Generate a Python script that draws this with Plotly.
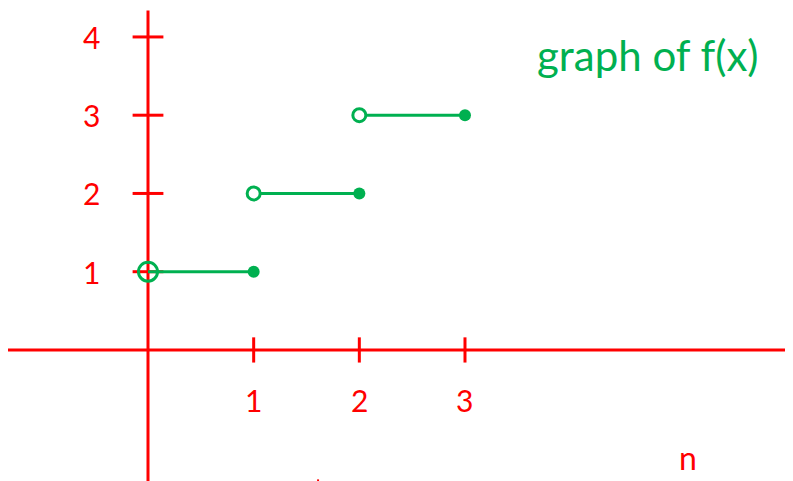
import plotly.graph_objects as go

RED = "#ff0000"
GREEN = "#00b050"

x_ticks = [1, 2, 3]
y_ticks = [1, 2, 3, 4]

# step segments: [start, end) at each level
seg_start = [0, 1, 2]
seg_end = [1, 2, 3]
seg_level = [1, 2, 3]
open_sizes = [19, 13, 13]
open_fill = ["rgba(255,255,255,0)", "white", "white"]

fig = go.Figure()

# axis tick marks
fig.add_trace(go.Scatter(
    x=x_ticks, y=[0] * len(x_ticks), mode="markers",
    marker=dict(symbol="line-ns", size=18, line=dict(color=RED, width=3)),
    hoverinfo="skip",
))
fig.add_trace(go.Scatter(
    x=[0] * len(y_ticks), y=y_ticks, mode="markers",
    marker=dict(symbol="line-ew", size=22, line=dict(color=RED, width=3)),
    hoverinfo="skip",
))

# step segments
for a, b, lvl in zip(seg_start, seg_end, seg_level):
    fig.add_trace(go.Scatter(
        x=[a, b], y=[lvl, lvl], mode="lines",
        line=dict(color=GREEN, width=3), hoverinfo="skip",
    ))

fig.add_trace(go.Scatter(
    x=seg_start, y=seg_level, mode="markers",
    marker=dict(symbol="circle", size=open_sizes, color=open_fill, opacity=1,
                line=dict(color=GREEN, width=3)),
    hoverinfo="skip",
))
fig.add_trace(go.Scatter(
    x=seg_end, y=seg_level, mode="markers",
    marker=dict(symbol="circle", size=12, color=GREEN, opacity=1),
    hoverinfo="skip",
))

# axes lines
fig.add_shape(type="line", xref="paper", yref="y", x0=0.0, x1=1, y0=0, y1=0,
              line=dict(color=RED, width=3))
fig.add_shape(type="line", xref="x", yref="paper", x0=0, x1=0, y0=0, y1=0.995,
              line=dict(color=RED, width=3), layer="below")
# stray pen mark near the bottom
fig.add_shape(type="line", xref="paper", yref="paper", x0=0.391, x1=0.391,
              y0=0.0, y1=0.02, line=dict(color=RED, width=2))

# tick labels
for t in x_ticks:
    fig.add_annotation(x=t, y=0, text=str(t), showarrow=False, yshift=-50,
                       font=dict(family="Lato", size=30, color=RED))
for t in y_ticks:
    fig.add_annotation(x=0, y=t, text=str(t), showarrow=False, xshift=-57,
                       font=dict(family="Lato", size=30, color=RED))

fig.add_annotation(xref="paper", yref="paper", x=0.807, y=0.902,
                   xanchor="center", yanchor="middle",
                   text="graph of f(x)", showarrow=False,
                   font=dict(family="Lato", size=42, color=GREEN))
fig.add_annotation(xref="paper", yref="paper", x=0.858, y=0.065,
                   xanchor="center", yanchor="middle",
                   text="n", showarrow=False,
                   font=dict(family="Lato", size=32, color=RED))

fig.update_xaxes(range=[-1.325, 6.18], visible=False)
fig.update_yaxes(range=[-1.777, 4.37], visible=False)
fig.update_layout(
    width=793, height=481, showlegend=False,
    margin=dict(l=0, r=0, t=0, b=0),
    plot_bgcolor="white", paper_bgcolor="white",
)

fig.write_html("out.html")
